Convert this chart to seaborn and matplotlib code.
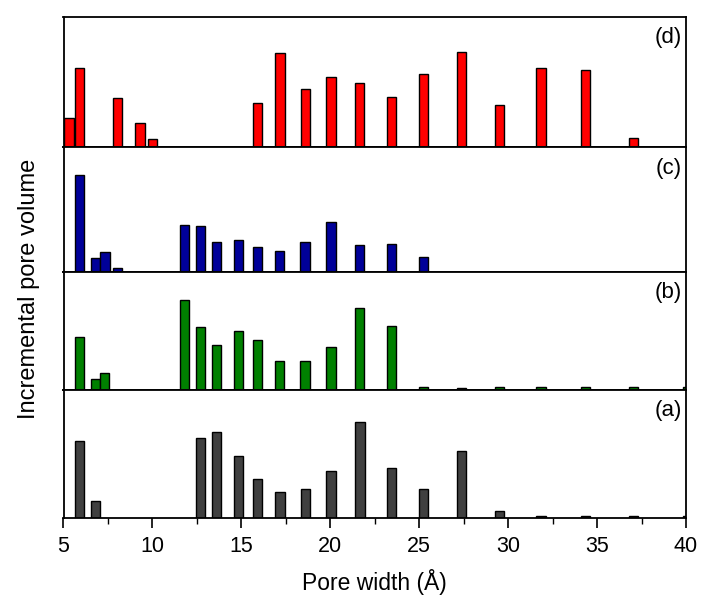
import numpy as np
import pandas as pd
import matplotlib
matplotlib.use("Agg")
import matplotlib.pyplot as plt
from matplotlib.ticker import MultipleLocator
import seaborn as sns

# ---- data (pore width in Å, incremental pore volume in arbitrary units) ----
x_d = [5.31, 5.91, 8.04, 9.29, 10.01, 15.92, 17.18, 18.60, 20.04, 21.64,
       23.43, 25.24, 27.38, 29.53, 31.85, 34.36, 37.05]
h_d = [29.3, 79.3, 49.3, 24.3, 8.7, 44.0, 94.3, 58.3, 70.0, 64.0,
       50.0, 73.0, 95.3, 42.0, 79.0, 77.0, 9.3]

x_c = [5.91, 6.79, 7.33, 8.05, 11.79, 12.70, 13.59, 14.83, 15.91, 17.16,
       18.59, 20.03, 21.63, 23.43, 25.24]
h_c = [96.3, 14.0, 19.7, 4.0, 46.3, 45.7, 29.7, 31.3, 24.3, 20.3,
       29.7, 49.7, 26.7, 28.0, 14.7]

x_b = [5.89, 6.79, 7.31, 11.79, 12.69, 13.59, 14.83, 15.91, 17.15, 18.58,
       20.03, 21.63, 23.43, 25.24, 27.38, 29.53, 31.85, 34.36, 37.05, 40.10]
h_b = [53.3, 11.0, 17.3, 89.3, 62.7, 44.7, 59.0, 50.3, 29.3, 28.7,
       43.3, 81.7, 64.3, 3.3, 2.3, 3.0, 3.0, 3.3, 2.7, 3.0]

x_a = [5.91, 6.80, 12.71, 13.60, 14.85, 15.92, 17.18, 18.60, 20.03, 21.66,
       23.44, 25.24, 27.38, 29.53, 31.85, 34.36, 37.05, 40.10]
h_a = [77.3, 17.3, 80.0, 85.7, 61.7, 38.7, 26.3, 29.0, 46.7, 96.3,
       50.0, 29.7, 66.7, 7.7, 2.0, 2.5, 2.0, 2.0]

panel_labels = ["(d)", "(c)", "(b)", "(a)"]
x_ticks = [5, 10, 15, 20, 25, 30, 35, 40]

# ---- style ----
sns.set_theme(style="white")
plt.rcParams["font.family"] = ["Liberation Sans", "DejaVu Sans"]

panels = [
    (x_d, h_d, "#FF0000", 130),
    (x_c, h_c, "#000099", 124),
    (x_b, h_b, "#008000", 118),
    (x_a, h_a, "#404040", 128),
]

fig = plt.figure(figsize=(7.03, 5.98), dpi=100)
gs = fig.add_gridspec(4, 1, height_ratios=[p[3] for p in panels], hspace=0,
                      left=63.5 / 703, right=686 / 703,
                      top=1 - 17 / 598, bottom=1 - 518.3 / 598)

bar_w = 0.53
axes = []
for i, ((xs, hs, col, ymax), lab) in enumerate(zip(panels, panel_labels)):
    ax = fig.add_subplot(gs[i])
    df = pd.DataFrame({"width": xs, "volume": hs})
    gap = np.min(np.diff(np.unique(df["width"])))
    sns.barplot(data=df, x="width", y="volume", native_scale=True,
                width=bar_w / gap, color=col, saturation=1,
                edgecolor="black", linewidth=1.0, errorbar=None, ax=ax)
    ax.set_xlim(5, 40)
    ax.set_ylim(0, ymax)
    ax.set_ylabel("")
    ax.set_xlabel("")
    ax.set_yticks([])
    for s in ax.spines.values():
        s.set_color("black")
        s.set_linewidth(1.3)
    ax.annotate(lab, xy=(1, 1), xycoords="axes fraction",
                xytext=(-3, -21 * 0.72), textcoords="offset points",
                ha="right", va="center", fontsize=16, color="black")
    if i < 3:
        ax.tick_params(axis="x", which="both", bottom=False, labelbottom=False)
    else:
        ax.set_xticks(x_ticks)
        ax.set_xticklabels([str(t) for t in x_ticks])
        ax.xaxis.set_minor_locator(MultipleLocator(2.5))
        ax.tick_params(axis="x", which="major", bottom=True, direction="out",
                       length=7, width=1.2, labelsize=15.5, pad=6,
                       color="black", labelcolor="black")
        ax.tick_params(axis="x", which="minor", bottom=True, direction="out",
                       length=4, width=1.0, color="black")
    axes.append(ax)

fig.text(374.5 / 703, 1 - 582 / 598, "Pore width (Å)", ha="center",
         va="center", fontsize=16.5, color="black")
fig.text(29.5 / 703, 1 - 289 / 598, "Incremental pore volume", ha="center",
         va="center", rotation=90, fontsize=17, color="black")

fig.savefig("out.png", dpi=100, facecolor="white")
